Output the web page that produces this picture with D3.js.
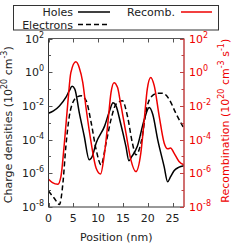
<!DOCTYPE html>
<html>
<head>
<meta charset="utf-8">
<script src="https://cdn.jsdelivr.net/npm/d3@7"></script>
<style>
  body { margin: 0; background: #fff; }
  text { font-family: "DejaVu Sans", sans-serif; }
</style>
</head>
<body>
<svg id="chart" width="249" height="248"></svg>
<script>
// positions (nm) and log10 of value
var holesX = [0, 1, 2.2, 3.5, 4.2, 4.75, 5.3, 6.2, 7.2, 8.2, 8.8, 9.6, 11.3, 12.3, 13.0, 13.6, 14.5, 15.6, 16.2, 16.8, 17.9, 19.3, 20.3, 21.0, 22.0, 23.3, 24.0, 24.6, 25.3, 26.2, 27.3];
var holesE = [-2.44, -2.3, -2.0, -1.5, -1.1, -0.84, -1.0, -2.4, -3.8, -5.2, -5.0, -4.2, -3.2, -2.3, -1.82, -2.0, -3.0, -4.4, -5.25, -5.0, -4.4, -2.8, -2.1, -2.5, -4.0, -5.6, -6.5, -6.2, -5.85, -5.65, -5.55];

var elecX = [0, 1.2, 2.2, 2.9, 3.5, 4.2, 4.9, 5.9, 6.6, 7.6, 8.6, 9.6, 10.6, 11.6, 12.6, 13.6, 14.9, 15.9, 16.9, 17.6, 18.9, 19.6, 20.6, 22.0, 23.0, 24.3, 25.6, 27.3];
var elecE = [-7.05, -7.5, -7.85, -6.6, -4.4, -2.6, -1.8, -1.45, -1.4, -1.7, -3.0, -4.6, -5.5, -4.2, -2.8, -1.9, -1.7, -2.6, -4.2, -4.9, -3.8, -2.4, -1.5, -1.25, -1.25, -1.6, -2.4, -3.35];

var recX = [0, 0.8, 1.9, 2.5, 3.2, 3.9, 4.5, 5.5, 6.2, 6.9, 7.6, 8.6, 9.6, 10.5, 11.2, 11.9, 12.6, 13.2, 13.9, 14.5, 15.6, 16.6, 17.6, 18.6, 19.3, 19.9, 20.6, 21.3, 22.3, 23.3, 24.0, 24.6, 25.3, 26.3, 27.3];
var recE = [-6.35, -6.55, -6.65, -6.2, -4.2, -1.8, -0.03, 0.62, 0.27, -0.6, -2.2, -4.2, -5.7, -6.04, -5.0, -3.2, -1.2, -0.62, -0.9, -1.8, -3.6, -5.2, -5.9, -4.8, -2.8, -1.0, -0.31, -0.8, -2.6, -4.2, -4.55, -4.5, -4.8, -5.3, -5.5];

var xTicks = [0, 5, 10, 15, 20, 25];
var yMajor = [2, 0, -2, -4, -6, -8];
var yMinor = [1, -1, -3, -5, -7];

var legendItems = ["Holes", "Recomb.", "Electrons"];

(function() {
  var svg = d3.select('#chart');
  var mLeft = 48.5, mRight = 184, mTop = 38.5, mBottom = 207;

  var x = d3.scaleLinear().domain([0, 27.3]).range([mLeft, mRight]);
  var y = d3.scaleLog().domain([1e-8, 1e2]).range([mBottom, mTop]);

  function pts(xs, es) {
    return xs.map(function(v, i) { return [v, Math.pow(10, es[i])]; });
  }

  var line = d3.line()
    .x(function(d) { return x(d[0]); })
    .y(function(d) { return y(d[1]); })
    .curve(d3.curveMonotoneX);

  svg.append('clipPath').attr('id', 'clip')
    .append('rect').attr('x', mLeft).attr('y', mTop)
    .attr('width', mRight - mLeft).attr('height', mBottom - mTop);

  var plot = svg.append('g').attr('clip-path', 'url(#clip)');

  plot.append('path').attr('d', line(pts(holesX, holesE)))
    .attr('fill', 'none').attr('stroke', '#000').attr('stroke-width', 1.5);
  plot.append('path').attr('d', line(pts(elecX, elecE)))
    .attr('fill', 'none').attr('stroke', '#000').attr('stroke-width', 1.5)
    .attr('stroke-dasharray', '5,3');
  plot.append('path').attr('d', line(pts(recX, recE)))
    .attr('fill', 'none').attr('stroke', '#ee0000').attr('stroke-width', 1.5);

  // frame
  var frame = svg.append('g').attr('stroke-width', 1).attr('fill', 'none');
  frame.append('line').attr('x1', mLeft).attr('x2', mRight).attr('y1', mTop).attr('y2', mTop).attr('stroke', '#555');
  frame.append('line').attr('x1', mLeft).attr('x2', mRight).attr('y1', mBottom).attr('y2', mBottom).attr('stroke', '#333');
  frame.append('line').attr('x1', mLeft).attr('x2', mLeft).attr('y1', mTop).attr('y2', mBottom).attr('stroke', '#333');
  frame.append('line').attr('x1', mRight).attr('x2', mRight).attr('y1', mTop).attr('y2', mBottom).attr('stroke', '#c04040').attr('stroke-width', 1.5);

  // x ticks (inside, bottom and top)
  xTicks.forEach(function(t) {
    var px = Math.round(x(t)) + 0.5;
    frame.append('line').attr('x1', px).attr('x2', px).attr('y1', mBottom).attr('y2', mBottom - 4).attr('stroke', '#555');
    frame.append('line').attr('x1', px).attr('x2', px).attr('y1', mTop).attr('y2', mTop + 4).attr('stroke', '#555');
    svg.append('text').attr('x', x(t)).attr('y', 222)
      .attr('text-anchor', 'middle').attr('font-size', 11).attr('fill', '#222').text(t);
  });

  // y ticks
  yMajor.concat(yMinor).forEach(function(e) {
    var py = Math.round(y(Math.pow(10, e))) + 0.5;
    var len = yMajor.indexOf(e) >= 0 ? 4 : 2.5;
    frame.append('line').attr('x1', mLeft).attr('x2', mLeft + len).attr('y1', py).attr('y2', py).attr('stroke', '#555');
    frame.append('line').attr('x1', mRight).attr('x2', mRight - len).attr('y1', py).attr('y2', py).attr('stroke', '#c04040');
  });

  yMajor.forEach(function(e) {
    var py = y(Math.pow(10, e));
    var tl = svg.append('text').attr('x', 44).attr('y', py + 4)
      .attr('text-anchor', 'end').attr('font-size', 11).attr('fill', '#222');
    tl.append('tspan').text('10');
    tl.append('tspan').attr('dy', -5).attr('font-size', 8).text(e);
    var tr = svg.append('text').attr('x', 189).attr('y', py + 4)
      .attr('font-size', 11).attr('fill', '#ee0000');
    tr.append('tspan').text('10');
    tr.append('tspan').attr('dy', -5).attr('font-size', 8).text(e);
  });

  // axis titles
  svg.append('text').attr('x', (mLeft + mRight) / 2).attr('y', 241)
    .attr('text-anchor', 'middle').attr('font-size', 11).attr('fill', '#222')
    .text('Position (nm)');

  var yl = svg.append('text')
    .attr('transform', 'translate(12,' + ((mTop + mBottom) / 2 + 2) + ') rotate(-90)')
    .attr('text-anchor', 'middle').attr('font-size', 11).attr('fill', '#222');
  yl.append('tspan').text('Charge densities (10');
  yl.append('tspan').attr('dy', -5).attr('font-size', 8).text('20');
  yl.append('tspan').attr('dy', 5).text(' cm');
  yl.append('tspan').attr('dy', -5).attr('font-size', 8).text('-3');
  yl.append('tspan').attr('dy', 5).text(')');

  var yr = svg.append('text')
    .attr('transform', 'translate(229,' + ((mTop + mBottom) / 2 - 2) + ') rotate(-90)')
    .attr('text-anchor', 'middle').attr('font-size', 11).attr('fill', '#ee0000');
  yr.append('tspan').text('Recombination (10');
  yr.append('tspan').attr('dy', -5).attr('font-size', 8).text('20');
  yr.append('tspan').attr('dy', 5).text(' cm');
  yr.append('tspan').attr('dy', -5).attr('font-size', 8).text('-3');
  yr.append('tspan').attr('dy', 5).text(' s');
  yr.append('tspan').attr('dy', -5).attr('font-size', 8).text('-1');
  yr.append('tspan').attr('dy', 5).text(')');

  // legend
  var lg = svg.append('g');
  lg.append('rect').attr('x', 13.5).attr('y', 5.5).attr('width', 205).attr('height', 24.5)
    .attr('fill', '#fff').attr('stroke', '#333').attr('stroke-width', 1);
  var lgPos = [[73, 12, 78, 110, '#000', null], [175, 12, 181, 212, '#ee0000', null], [73, 24.5, 78, 110, '#000', '5,3']];
  legendItems.forEach(function(name, i) {
    var p = lgPos[i];
    lg.append('text').attr('x', p[0]).attr('y', p[1] + 4).attr('text-anchor', 'end')
      .attr('font-size', 11).attr('fill', '#222').text(name);
    lg.append('line').attr('x1', p[2]).attr('x2', p[3]).attr('y1', p[1]).attr('y2', p[1])
      .attr('stroke', p[4]).attr('stroke-width', 1.5).attr('stroke-dasharray', p[5]);
  });
})();
</script>
</body>
</html>
